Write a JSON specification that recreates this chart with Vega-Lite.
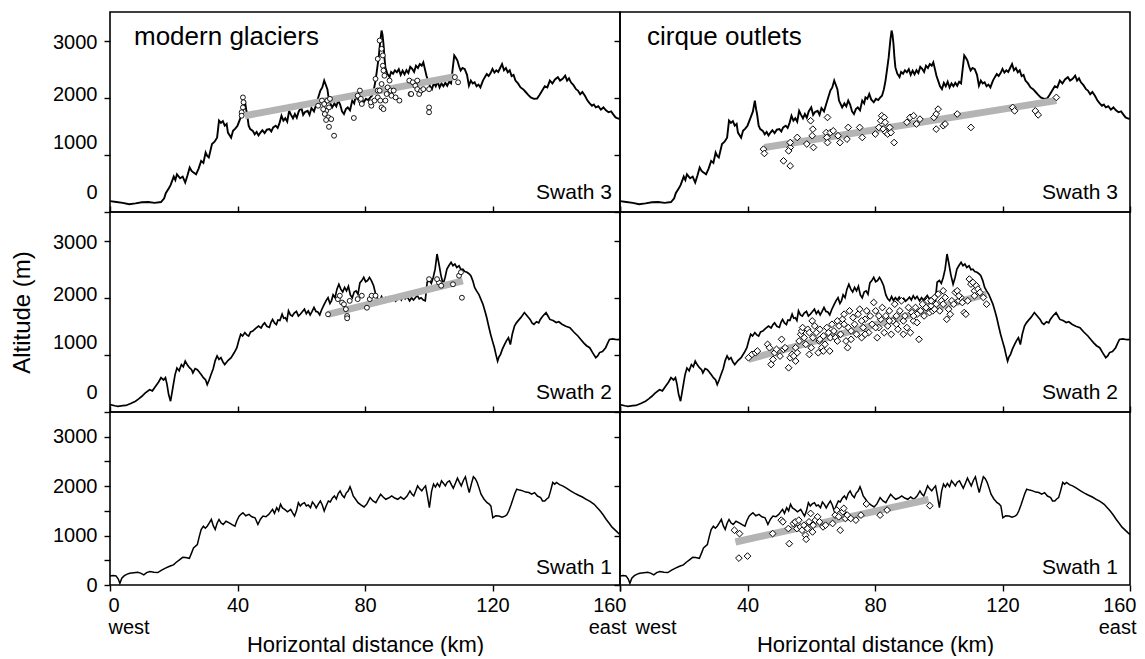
{
  "$schema": "https://vega.github.io/schema/vega-lite/v6.json",
  "background": "white",
  "padding": {"left": 9, "top": 11, "right": 5, "bottom": 0},
  "columns": 2,
  "spacing": 0,
  "bounds": "flush",
  "config": {
    "font": "Liberation Sans",
    "view": {"stroke": "black", "strokeWidth": 1.6},
    "axis": {"grid": false, "domain": false, "tickColor": "black", "tickWidth": 1.4, "tickSize": 6, "labelColor": "black", "labelFontSize": 20, "labelFont": "Liberation Sans", "titleFont": "Liberation Sans", "titleFontSize": 22, "titleFontWeight": "normal", "titleColor": "black", "labelOverlap": false, "labelFlush": false},
    "title": {"font": "Liberation Sans", "fontSize": 26, "fontWeight": "normal", "color": "black"}
  },
  "datasets": {
    "s3": [
      {"km":0,"alt":190},{"km":2,"alt":175},{"km":4,"alt":160},{"km":6,"alt":135},{"km":8,"alt":150},{"km":10,"alt":170},{"km":12,"alt":175},{"km":14,"alt":160},{"km":16,"alt":175},{"km":17,"alt":240},{"km":17.5,"alt":330},{"km":18.5,"alt":420},{"km":19,"alt":470},{"km":20,"alt":620},{"km":20.5,"alt":560},{"km":21,"alt":660},{"km":22,"alt":590},{"km":22.8,"alt":620},{"km":23.6,"alt":515},{"km":24.3,"alt":640},{"km":25,"alt":780},{"km":25.6,"alt":720},{"km":26,"alt":700},{"km":27,"alt":660},{"km":27.8,"alt":760},{"km":28.6,"alt":895},{"km":29.3,"alt":860},{"km":30,"alt":1040},{"km":30.5,"alt":980},{"km":31,"alt":955},{"km":32,"alt":1190},{"km":32.8,"alt":1230},{"km":33.6,"alt":1300},{"km":34.2,"alt":1600},{"km":34.8,"alt":1560},{"km":35.4,"alt":1590},{"km":36,"alt":1510},{"km":36.6,"alt":1540},{"km":37,"alt":1390},{"km":38,"alt":1300},{"km":38.6,"alt":1420},{"km":39.3,"alt":1460},{"km":40,"alt":1510},{"km":41,"alt":1655},{"km":41.7,"alt":1760},{"km":42.3,"alt":1950},{"km":42.7,"alt":1800},{"km":43,"alt":1715},{"km":43.5,"alt":1510},{"km":44,"alt":1450},{"km":44.8,"alt":1420},{"km":45.4,"alt":1360},{"km":46,"alt":1400},{"km":46.6,"alt":1340},{"km":47.2,"alt":1390},{"km":47.8,"alt":1430},{"km":48.5,"alt":1380},{"km":49.2,"alt":1440},{"km":50,"alt":1450},{"km":50.6,"alt":1410},{"km":51.2,"alt":1480},{"km":52,"alt":1510},{"km":52.6,"alt":1470},{"km":53.2,"alt":1560},{"km":53.8,"alt":1685},{"km":54.4,"alt":1600},{"km":55,"alt":1640},{"km":55.6,"alt":1580},{"km":56.2,"alt":1770},{"km":56.8,"alt":1700},{"km":57.4,"alt":1640},{"km":58,"alt":1715},{"km":58.6,"alt":1650},{"km":59.2,"alt":1760},{"km":60,"alt":1830},{"km":60.6,"alt":1700},{"km":61.2,"alt":1750},{"km":62,"alt":1770},{"km":62.6,"alt":1700},{"km":63.2,"alt":1820},{"km":64,"alt":1760},{"km":64.7,"alt":1890},{"km":65.3,"alt":2000},{"km":66,"alt":2125},{"km":66.6,"alt":2180},{"km":67.2,"alt":2300},{"km":67.6,"alt":2240},{"km":68.2,"alt":2150},{"km":68.7,"alt":1950},{"km":69.3,"alt":1880},{"km":69.7,"alt":1830},{"km":70.4,"alt":1900},{"km":71,"alt":1850},{"km":71.6,"alt":1950},{"km":72.2,"alt":1880},{"km":72.8,"alt":1760},{"km":73.4,"alt":1715},{"km":74,"alt":1800},{"km":74.6,"alt":1830},{"km":75.3,"alt":1780},{"km":76,"alt":1950},{"km":76.6,"alt":1900},{"km":77,"alt":2005},{"km":77.6,"alt":1980},{"km":78.2,"alt":2065},{"km":78.8,"alt":1970},{"km":79.6,"alt":1920},{"km":80.3,"alt":1980},{"km":81,"alt":1960},{"km":81.6,"alt":2000},{"km":82.2,"alt":2035},{"km":82.8,"alt":2150},{"km":83.3,"alt":2300},{"km":83.8,"alt":2500},{"km":84.3,"alt":2710},{"km":84.8,"alt":3000},{"km":85.2,"alt":3175},{"km":85.5,"alt":3100},{"km":85.8,"alt":2940},{"km":86.1,"alt":2700},{"km":86.4,"alt":2530},{"km":87,"alt":2420},{"km":87.7,"alt":2360},{"km":88.2,"alt":2450},{"km":88.8,"alt":2420},{"km":89.4,"alt":2480},{"km":90,"alt":2445},{"km":90.6,"alt":2500},{"km":91.2,"alt":2400},{"km":91.8,"alt":2475},{"km":92.4,"alt":2410},{"km":93,"alt":2480},{"km":93.6,"alt":2430},{"km":94.2,"alt":2540},{"km":94.8,"alt":2505},{"km":95.4,"alt":2450},{"km":96,"alt":2560},{"km":96.6,"alt":2520},{"km":97.2,"alt":2590},{"km":97.8,"alt":2560},{"km":98.3,"alt":2620},{"km":98.8,"alt":2500},{"km":99.3,"alt":2380},{"km":99.8,"alt":2300},{"km":100.4,"alt":2200},{"km":101,"alt":2150},{"km":101.6,"alt":2260},{"km":102.2,"alt":2200},{"km":102.8,"alt":2280},{"km":103.4,"alt":2180},{"km":104,"alt":2250},{"km":104.6,"alt":2200},{"km":105.2,"alt":2260},{"km":105.8,"alt":2210},{"km":106.4,"alt":2280},{"km":107,"alt":2250},{"km":107.5,"alt":2500},{"km":108,"alt":2740},{"km":108.5,"alt":2700},{"km":109,"alt":2650},{"km":109.5,"alt":2550},{"km":110,"alt":2475},{"km":110.6,"alt":2520},{"km":111.3,"alt":2500},{"km":112,"alt":2400},{"km":112.6,"alt":2210},{"km":113.2,"alt":2300},{"km":113.8,"alt":2250},{"km":114.4,"alt":2270},{"km":115,"alt":2200},{"km":115.6,"alt":2230},{"km":116.2,"alt":2180},{"km":117,"alt":2300},{"km":117.6,"alt":2360},{"km":118.2,"alt":2415},{"km":118.8,"alt":2380},{"km":119.4,"alt":2430},{"km":120,"alt":2505},{"km":120.6,"alt":2440},{"km":121.2,"alt":2480},{"km":121.8,"alt":2450},{"km":122.4,"alt":2520},{"km":123,"alt":2590},{"km":123.6,"alt":2480},{"km":124.2,"alt":2520},{"km":124.8,"alt":2445},{"km":125.4,"alt":2480},{"km":126,"alt":2380},{"km":126.6,"alt":2400},{"km":127.2,"alt":2300},{"km":128,"alt":2250},{"km":128.8,"alt":2180},{"km":129.6,"alt":2150},{"km":130.4,"alt":2100},{"km":131.2,"alt":2050},{"km":132,"alt":2005},{"km":133,"alt":1980},{"km":134,"alt":1985},{"km":134.8,"alt":2050},{"km":135.6,"alt":2125},{"km":136.4,"alt":2200},{"km":137.2,"alt":2180},{"km":138,"alt":2300},{"km":138.8,"alt":2250},{"km":139.6,"alt":2320},{"km":140.5,"alt":2360},{"km":141.2,"alt":2300},{"km":142,"alt":2330},{"km":142.8,"alt":2385},{"km":143.4,"alt":2300},{"km":144,"alt":2340},{"km":144.6,"alt":2270},{"km":145.4,"alt":2220},{"km":146.2,"alt":2150},{"km":146.8,"alt":2125},{"km":147.5,"alt":2060},{"km":148.2,"alt":2100},{"km":149,"alt":2035},{"km":149.8,"alt":1950},{"km":150.5,"alt":1900},{"km":151.2,"alt":1860},{"km":151.8,"alt":1880},{"km":152.4,"alt":1830},{"km":153.2,"alt":1850},{"km":154,"alt":1790},{"km":154.8,"alt":1830},{"km":155.6,"alt":1780},{"km":156.4,"alt":1745},{"km":157.2,"alt":1760},{"km":158,"alt":1700},{"km":158.6,"alt":1655},{"km":159.3,"alt":1640},{"km":160,"alt":1625}
    ],
    "s2": [
      {"km":0,"alt":130},{"km":1.5,"alt":110},{"km":2.5,"alt":100},{"km":4,"alt":110},{"km":5,"alt":115},{"km":6.5,"alt":150},{"km":8,"alt":190},{"km":9,"alt":230},{"km":10,"alt":275},{"km":11,"alt":330},{"km":12.4,"alt":390},{"km":13.3,"alt":370},{"km":14.3,"alt":450},{"km":15.2,"alt":520},{"km":16,"alt":600},{"km":16.8,"alt":560},{"km":17.4,"alt":600},{"km":17.9,"alt":480},{"km":18.4,"alt":305},{"km":19,"alt":190},{"km":19.7,"alt":420},{"km":20.4,"alt":650},{"km":21,"alt":770},{"km":21.7,"alt":720},{"km":22.4,"alt":830},{"km":23,"alt":790},{"km":23.6,"alt":890},{"km":24.3,"alt":820},{"km":25,"alt":770},{"km":25.6,"alt":740},{"km":26,"alt":685},{"km":26.7,"alt":760},{"km":27.4,"alt":740},{"km":28,"alt":700},{"km":28.6,"alt":655},{"km":29.3,"alt":600},{"km":30,"alt":560},{"km":30.5,"alt":480},{"km":31.1,"alt":560},{"km":31.7,"alt":655},{"km":32.4,"alt":760},{"km":33,"alt":900},{"km":33.6,"alt":980},{"km":34.2,"alt":920},{"km":34.8,"alt":950},{"km":35.4,"alt":880},{"km":36,"alt":830},{"km":37,"alt":900},{"km":38,"alt":950},{"km":39,"alt":1040},{"km":39.8,"alt":1125},{"km":40.4,"alt":1250},{"km":41,"alt":1360},{"km":41.6,"alt":1330},{"km":42.3,"alt":1390},{"km":42.9,"alt":1350},{"km":43.5,"alt":1330},{"km":44.1,"alt":1400},{"km":44.8,"alt":1415},{"km":45.6,"alt":1460},{"km":46.6,"alt":1505},{"km":47.4,"alt":1470},{"km":48,"alt":1530},{"km":48.5,"alt":1560},{"km":49.2,"alt":1500},{"km":50,"alt":1480},{"km":50.5,"alt":1570},{"km":51,"alt":1620},{"km":51.6,"alt":1560},{"km":52.2,"alt":1530},{"km":52.7,"alt":1610},{"km":53.3,"alt":1600},{"km":54,"alt":1710},{"km":54.5,"alt":1640},{"km":55,"alt":1650},{"km":55.5,"alt":1600},{"km":56,"alt":1770},{"km":56.6,"alt":1700},{"km":57.2,"alt":1680},{"km":57.8,"alt":1730},{"km":58.5,"alt":1760},{"km":59.1,"alt":1680},{"km":59.7,"alt":1710},{"km":60.4,"alt":1760},{"km":61,"alt":1800},{"km":61.6,"alt":1720},{"km":62.2,"alt":1770},{"km":62.8,"alt":1700},{"km":63.4,"alt":1760},{"km":64,"alt":1830},{"km":64.6,"alt":1760},{"km":65.2,"alt":1750},{"km":65.8,"alt":1700},{"km":66.4,"alt":1790},{"km":67.2,"alt":1885},{"km":67.8,"alt":1950},{"km":68.4,"alt":2000},{"km":69,"alt":1900},{"km":69.5,"alt":1950},{"km":70,"alt":2050},{"km":70.6,"alt":2000},{"km":71.2,"alt":2150},{"km":71.8,"alt":2235},{"km":72.4,"alt":2150},{"km":73,"alt":2100},{"km":73.6,"alt":2180},{"km":74.2,"alt":2120},{"km":74.8,"alt":2200},{"km":75.4,"alt":2050},{"km":76,"alt":2000},{"km":76.6,"alt":2100},{"km":77.2,"alt":2120},{"km":77.8,"alt":2060},{"km":78.4,"alt":2260},{"km":79,"alt":2300},{"km":79.6,"alt":2355},{"km":80.2,"alt":2280},{"km":80.8,"alt":2300},{"km":81.4,"alt":2355},{"km":82,"alt":2300},{"km":82.7,"alt":2210},{"km":83.4,"alt":2050},{"km":84,"alt":1980},{"km":84.6,"alt":1945},{"km":85.2,"alt":2020},{"km":85.8,"alt":1950},{"km":86.4,"alt":2000},{"km":87,"alt":1960},{"km":87.6,"alt":2010},{"km":88.3,"alt":1945},{"km":89,"alt":1990},{"km":89.6,"alt":1940},{"km":90.2,"alt":1970},{"km":90.8,"alt":2010},{"km":91.4,"alt":1960},{"km":92,"alt":2035},{"km":92.6,"alt":1980},{"km":93.2,"alt":2020},{"km":94,"alt":1945},{"km":94.6,"alt":2000},{"km":95.2,"alt":1960},{"km":95.8,"alt":2000},{"km":96.4,"alt":2040},{"km":97,"alt":1980},{"km":97.6,"alt":2000},{"km":98.3,"alt":1960},{"km":98.9,"alt":1945},{"km":99.5,"alt":2270},{"km":100.2,"alt":2300},{"km":100.8,"alt":2250},{"km":101.4,"alt":2355},{"km":102,"alt":2500},{"km":102.6,"alt":2765},{"km":103.2,"alt":2590},{"km":103.8,"alt":2400},{"km":104.5,"alt":2235},{"km":105.1,"alt":2350},{"km":105.7,"alt":2500},{"km":106.3,"alt":2560},{"km":107,"alt":2620},{"km":107.6,"alt":2560},{"km":108.2,"alt":2590},{"km":108.8,"alt":2530},{"km":109.5,"alt":2560},{"km":110.1,"alt":2490},{"km":110.7,"alt":2500},{"km":111.3,"alt":2460},{"km":112,"alt":2445},{"km":112.6,"alt":2420},{"km":113.2,"alt":2385},{"km":113.8,"alt":2300},{"km":114.4,"alt":2180},{"km":115,"alt":2120},{"km":115.7,"alt":2060},{"km":116.3,"alt":1980},{"km":117,"alt":1885},{"km":117.6,"alt":1770},{"km":118.2,"alt":1650},{"km":118.8,"alt":1500},{"km":119.4,"alt":1360},{"km":120,"alt":1240},{"km":120.6,"alt":1125},{"km":121.1,"alt":1000},{"km":121.6,"alt":890},{"km":122,"alt":960},{"km":122.5,"alt":1005},{"km":123.1,"alt":1100},{"km":123.8,"alt":1185},{"km":124.4,"alt":1250},{"km":125,"alt":1300},{"km":125.6,"alt":1180},{"km":126.2,"alt":1360},{"km":126.9,"alt":1505},{"km":127.5,"alt":1560},{"km":128,"alt":1595},{"km":129,"alt":1660},{"km":130,"alt":1740},{"km":130.9,"alt":1680},{"km":131.8,"alt":1620},{"km":132.4,"alt":1560},{"km":133,"alt":1535},{"km":133.8,"alt":1580},{"km":134.5,"alt":1560},{"km":135,"alt":1620},{"km":135.8,"alt":1680},{"km":136.8,"alt":1740},{"km":137.4,"alt":1680},{"km":138,"alt":1620},{"km":139,"alt":1600},{"km":140,"alt":1565},{"km":140.8,"alt":1580},{"km":141.8,"alt":1535},{"km":143,"alt":1500},{"km":144.3,"alt":1475},{"km":145.5,"alt":1400},{"km":146.8,"alt":1330},{"km":147.7,"alt":1270},{"km":148.6,"alt":1210},{"km":149.5,"alt":1160},{"km":150.5,"alt":1125},{"km":151.4,"alt":1040},{"km":152.4,"alt":950},{"km":153,"alt":980},{"km":153.6,"alt":1040},{"km":154.5,"alt":1060},{"km":155.5,"alt":1125},{"km":156.1,"alt":1200},{"km":156.7,"alt":1270},{"km":157.6,"alt":1280},{"km":158.6,"alt":1270},{"km":159.3,"alt":1265},{"km":160,"alt":1270}
    ],
    "s1": [
      {"km":0,"alt":184},{"km":1,"alt":190},{"km":1.9,"alt":184},{"km":2.6,"alt":120},{"km":3.1,"alt":34},{"km":3.7,"alt":136},{"km":4.5,"alt":190},{"km":5.4,"alt":220},{"km":6.2,"alt":238},{"km":7.5,"alt":250},{"km":8.7,"alt":258},{"km":9.6,"alt":240},{"km":10.6,"alt":204},{"km":11.5,"alt":250},{"km":12.5,"alt":272},{"km":13.8,"alt":260},{"km":15,"alt":252},{"km":16.2,"alt":300},{"km":17.4,"alt":340},{"km":18.7,"alt":380},{"km":19.9,"alt":408},{"km":20.8,"alt":460},{"km":21.8,"alt":510},{"km":22.8,"alt":560},{"km":23.7,"alt":558},{"km":24.9,"alt":540},{"km":25.6,"alt":650},{"km":26.2,"alt":748},{"km":27.4,"alt":816},{"km":28,"alt":980},{"km":28.6,"alt":1122},{"km":29.3,"alt":1190},{"km":29.9,"alt":1150},{"km":30.5,"alt":1190},{"km":31.2,"alt":1260},{"km":31.8,"alt":1326},{"km":32.4,"alt":1200},{"km":33,"alt":1122},{"km":33.6,"alt":1250},{"km":34.2,"alt":1326},{"km":34.8,"alt":1260},{"km":35.5,"alt":1224},{"km":36.4,"alt":1290},{"km":37.4,"alt":1258},{"km":38.3,"alt":1220},{"km":39.2,"alt":1190},{"km":39.8,"alt":1300},{"km":40.5,"alt":1394},{"km":41.1,"alt":1430},{"km":41.7,"alt":1462},{"km":42.6,"alt":1400},{"km":43.6,"alt":1428},{"km":44.5,"alt":1380},{"km":45.5,"alt":1360},{"km":46.4,"alt":1224},{"km":47.2,"alt":1330},{"km":48,"alt":1394},{"km":48.9,"alt":1380},{"km":49.8,"alt":1428},{"km":50.4,"alt":1480},{"km":51,"alt":1530},{"km":51.6,"alt":1450},{"km":52.3,"alt":1564},{"km":52.9,"alt":1500},{"km":53.5,"alt":1632},{"km":54.1,"alt":1560},{"km":54.8,"alt":1530},{"km":55.7,"alt":1480},{"km":56.7,"alt":1530},{"km":57.3,"alt":1460},{"km":57.9,"alt":1394},{"km":58.5,"alt":1500},{"km":59.1,"alt":1666},{"km":59.7,"alt":1600},{"km":60.3,"alt":1640},{"km":61,"alt":1666},{"km":61.6,"alt":1600},{"km":62.2,"alt":1620},{"km":62.9,"alt":1564},{"km":63.5,"alt":1680},{"km":64.1,"alt":1632},{"km":64.7,"alt":1560},{"km":65.4,"alt":1640},{"km":66,"alt":1700},{"km":66.6,"alt":1620},{"km":67.2,"alt":1496},{"km":67.8,"alt":1600},{"km":68.5,"alt":1700},{"km":69.1,"alt":1680},{"km":69.8,"alt":1760},{"km":70.4,"alt":1802},{"km":71,"alt":1740},{"km":71.6,"alt":1850},{"km":72.2,"alt":1904},{"km":72.8,"alt":1820},{"km":73.5,"alt":1768},{"km":74.1,"alt":1860},{"km":74.7,"alt":1900},{"km":75.3,"alt":1986},{"km":75.8,"alt":1900},{"km":76.3,"alt":1802},{"km":77,"alt":1740},{"km":77.8,"alt":1666},{"km":78.7,"alt":1620},{"km":79.7,"alt":1578},{"km":80.6,"alt":1640},{"km":81.6,"alt":1768},{"km":82.5,"alt":1700},{"km":83.4,"alt":1666},{"km":84.2,"alt":1760},{"km":84.9,"alt":1836},{"km":85.7,"alt":1780},{"km":86.5,"alt":1734},{"km":87.4,"alt":1760},{"km":88.4,"alt":1802},{"km":89.3,"alt":1760},{"km":90.3,"alt":1734},{"km":91.2,"alt":1780},{"km":92.2,"alt":1734},{"km":93.2,"alt":1800},{"km":94.1,"alt":1904},{"km":94.7,"alt":1840},{"km":95.3,"alt":1802},{"km":95.9,"alt":1900},{"km":96.5,"alt":2006},{"km":97.1,"alt":1950},{"km":97.8,"alt":1904},{"km":98.4,"alt":1960},{"km":99,"alt":2006},{"km":99.6,"alt":1800},{"km":100.2,"alt":1564},{"km":100.9,"alt":1900},{"km":101.5,"alt":2040},{"km":102.1,"alt":1980},{"km":102.7,"alt":2054},{"km":103.4,"alt":1990},{"km":104,"alt":2108},{"km":104.6,"alt":2060},{"km":105.2,"alt":2006},{"km":105.8,"alt":2080},{"km":106.5,"alt":2108},{"km":107.1,"alt":2030},{"km":107.7,"alt":1958},{"km":108.3,"alt":2050},{"km":109,"alt":2162},{"km":109.6,"alt":2080},{"km":110.2,"alt":2006},{"km":110.9,"alt":2120},{"km":111.5,"alt":2190},{"km":112.1,"alt":2020},{"km":112.7,"alt":1870},{"km":113.4,"alt":2050},{"km":114,"alt":2190},{"km":114.6,"alt":2150},{"km":115.2,"alt":2074},{"km":115.8,"alt":1960},{"km":116.4,"alt":1836},{"km":117.3,"alt":1740},{"km":118.3,"alt":1666},{"km":118.9,"alt":1640},{"km":119.5,"alt":1598},{"km":120.1,"alt":1360},{"km":121,"alt":1400},{"km":122,"alt":1394},{"km":123,"alt":1370},{"km":123.9,"alt":1394},{"km":124.5,"alt":1420},{"km":125.1,"alt":1496},{"km":125.8,"alt":1620},{"km":126.4,"alt":1734},{"km":127,"alt":1850},{"km":127.6,"alt":1938},{"km":128.5,"alt":1920},{"km":129.5,"alt":1904},{"km":130.4,"alt":1880},{"km":131.4,"alt":1870},{"km":132.3,"alt":1840},{"km":133.2,"alt":1870},{"km":134.1,"alt":1800},{"km":135.1,"alt":1768},{"km":135.7,"alt":1700},{"km":136.4,"alt":1700},{"km":137,"alt":1740},{"km":137.6,"alt":1768},{"km":138.2,"alt":1900},{"km":138.9,"alt":2074},{"km":139.5,"alt":2040},{"km":140.1,"alt":2074},{"km":141,"alt":2030},{"km":142,"alt":2006},{"km":143.2,"alt":1960},{"km":144.5,"alt":1904},{"km":145.7,"alt":1860},{"km":147,"alt":1816},{"km":148.2,"alt":1780},{"km":149.4,"alt":1734},{"km":150.6,"alt":1690},{"km":151.9,"alt":1632},{"km":152.8,"alt":1570},{"km":153.8,"alt":1496},{"km":154.7,"alt":1420},{"km":155.7,"alt":1326},{"km":156.6,"alt":1250},{"km":157.5,"alt":1170},{"km":158.5,"alt":1110},{"km":159.4,"alt":1054},{"km":160,"alt":1020}
    ],
    "t3L": [{"km":42.3,"alt":1685},{"km":108.2,"alt":2370}],
    "t3R": [{"km":45.3,"alt":1130},{"km":136.9,"alt":1950}],
    "t2L": [{"km":68.4,"alt":1710},{"km":110.7,"alt":2295}],
    "t2R": [{"km":40.3,"alt":920},{"km":115,"alt":2063}],
    "t1R": [{"km":36.2,"alt":870},{"km":96.8,"alt":1730}],
    "p3L": [
      {"km":41.7,"alt":2005},{"km":41.9,"alt":1920},{"km":41.7,"alt":1830},{"km":41.3,"alt":1745},{"km":41.3,"alt":1685},{"km":65.3,"alt":1860},{"km":66.5,"alt":1950},{"km":67.2,"alt":1890},{"km":68.2,"alt":1950},{"km":68.7,"alt":1830},{"km":67.8,"alt":1770},{"km":67.4,"alt":1715},{"km":68.5,"alt":1655},{"km":67.8,"alt":1610},{"km":69.4,"alt":1625},{"km":68.7,"alt":1490},{"km":70.3,"alt":1335},{"km":66.9,"alt":1800},{"km":69.0,"alt":1980},{"km":76.5,"alt":1645},{"km":77.7,"alt":2035},{"km":78.4,"alt":2125},{"km":78.6,"alt":1950},{"km":79.0,"alt":1890},{"km":78.7,"alt":1980},{"km":82.0,"alt":1860},{"km":81.8,"alt":1920},{"km":83.0,"alt":1950},{"km":84.0,"alt":2005},{"km":84.0,"alt":2125},{"km":83.3,"alt":2330},{"km":84.0,"alt":2680},{"km":84.6,"alt":3000},{"km":85.2,"alt":2855},{"km":85.6,"alt":2740},{"km":85.6,"alt":2560},{"km":85.8,"alt":2475},{"km":86.1,"alt":2385},{"km":85.2,"alt":2240},{"km":84.6,"alt":2125},{"km":84.8,"alt":1950},{"km":85.2,"alt":1830},{"km":85.8,"alt":1800},{"km":86.4,"alt":1950},{"km":86.8,"alt":2065},{"km":87.1,"alt":2180},{"km":87.7,"alt":2300},{"km":88.0,"alt":2125},{"km":88.3,"alt":2035},{"km":89.0,"alt":2125},{"km":89.6,"alt":2005},{"km":90.8,"alt":1950},{"km":94.3,"alt":2065},{"km":93.9,"alt":2300},{"km":95.0,"alt":2270},{"km":95.8,"alt":2210},{"km":96.4,"alt":2150},{"km":97.0,"alt":2065},{"km":97.6,"alt":2125},{"km":98.3,"alt":2150},{"km":96.4,"alt":2300},{"km":100.1,"alt":1830},{"km":100.1,"alt":1745},{"km":100.1,"alt":2150},{"km":108.2,"alt":2360},{"km":109.2,"alt":2270},{"km":94.5,"alt":2065}
    ],
    "p3R": [
      {"km":45,"alt":1100},{"km":45.3,"alt":1025},{"km":51.3,"alt":895},{"km":53.4,"alt":807},{"km":53.4,"alt":1130},{"km":53.4,"alt":1215},{"km":52.9,"alt":1070},{"km":55.6,"alt":1305},{"km":58.6,"alt":1190},{"km":59.8,"alt":1597},{"km":60.5,"alt":1450},{"km":60.3,"alt":1335},{"km":60.7,"alt":1130},{"km":64.7,"alt":1390},{"km":64.9,"alt":1305},{"km":65.1,"alt":1215},{"km":65.1,"alt":1655},{"km":66,"alt":1390},{"km":66.9,"alt":1420},{"km":68.4,"alt":1335},{"km":69,"alt":1215},{"km":71.2,"alt":1275},{"km":71.6,"alt":1480},{"km":75.2,"alt":1480},{"km":76,"alt":1305},{"km":80.1,"alt":1365},{"km":81.2,"alt":1480},{"km":82.1,"alt":1685},{"km":81.8,"alt":1597},{"km":82.9,"alt":1655},{"km":83.2,"alt":1570},{"km":82.6,"alt":1450},{"km":83.4,"alt":1390},{"km":84,"alt":1365},{"km":85,"alt":1390},{"km":86,"alt":1215},{"km":84.6,"alt":1480},{"km":90,"alt":1570},{"km":91,"alt":1655},{"km":92.1,"alt":1685},{"km":93,"alt":1540},{"km":94.1,"alt":1625},{"km":98.5,"alt":1655},{"km":99.2,"alt":1715},{"km":99.8,"alt":1800},{"km":99.2,"alt":1450},{"km":101.4,"alt":1510},{"km":102,"alt":1540},{"km":105.8,"alt":1715},{"km":110.1,"alt":1480},{"km":123.2,"alt":1830},{"km":123.8,"alt":1770},{"km":130.3,"alt":1770},{"km":131.2,"alt":1700},{"km":136.9,"alt":2005}
    ],
    "p2L": [
      {"km":68.4,"alt":1710},{"km":71.5,"alt":1975},{"km":72.1,"alt":2035},{"km":72.8,"alt":1915},{"km":73.4,"alt":1885},{"km":74,"alt":1800},{"km":74.4,"alt":1680},{"km":74.4,"alt":1640},{"km":75.2,"alt":1945},{"km":77.7,"alt":1975},{"km":79,"alt":2035},{"km":80.6,"alt":1825},{"km":81.5,"alt":1975},{"km":82.1,"alt":2035},{"km":83.3,"alt":2035},{"km":100.1,"alt":2325},{"km":103.2,"alt":2265},{"km":103.9,"alt":2210},{"km":107.6,"alt":2235},{"km":109.5,"alt":2385},{"km":110.4,"alt":2000},{"km":110.1,"alt":2445},{"km":102.6,"alt":2325}
    ],
    "p2R": [
      {"km":40.3,"alt":949},{"km":41.4,"alt":1008},{"km":42.5,"alt":1037},{"km":43.1,"alt":1067},{"km":46.3,"alt":1184},{"km":46.9,"alt":1125},{"km":47.4,"alt":832},{"km":48.0,"alt":920},{"km":48.5,"alt":1037},{"km":49.1,"alt":1096},{"km":50.2,"alt":979},{"km":50.7,"alt":1272},{"km":51.3,"alt":1096},{"km":51.8,"alt":1125},{"km":52.9,"alt":774},{"km":53.4,"alt":949},{"km":54.0,"alt":1008},{"km":54.5,"alt":979},{"km":55.1,"alt":1125},{"km":55.6,"alt":1037},{"km":56.2,"alt":1242},{"km":56.7,"alt":1360},{"km":57.0,"alt":1418},{"km":57.3,"alt":1477},{"km":57.8,"alt":1301},{"km":58.3,"alt":1184},{"km":58.9,"alt":1447},{"km":59.4,"alt":1389},{"km":60.0,"alt":1125},{"km":60.3,"alt":1594},{"km":60.5,"alt":1301},{"km":61.1,"alt":1506},{"km":61.6,"alt":1389},{"km":62.2,"alt":1037},{"km":62.5,"alt":1242},{"km":62.7,"alt":1447},{"km":63.3,"alt":1125},{"km":63.8,"alt":1330},{"km":64.3,"alt":1184},{"km":64.9,"alt":1477},{"km":65.4,"alt":1389},{"km":65.8,"alt":1067},{"km":66.0,"alt":1301},{"km":66.5,"alt":1535},{"km":67.1,"alt":1418},{"km":67.6,"alt":1301},{"km":68.2,"alt":1594},{"km":68.7,"alt":1506},{"km":69.2,"alt":1360},{"km":69.8,"alt":1623},{"km":70.3,"alt":1711},{"km":70.9,"alt":1242},{"km":71.4,"alt":1125},{"km":71.6,"alt":1477},{"km":72.0,"alt":1770},{"km":72.5,"alt":1418},{"km":73.1,"alt":1653},{"km":73.6,"alt":1535},{"km":74.2,"alt":1360},{"km":74.7,"alt":1711},{"km":75.2,"alt":1799},{"km":75.8,"alt":1301},{"km":76.3,"alt":1477},{"km":76.9,"alt":1623},{"km":77.4,"alt":1770},{"km":78.0,"alt":1389},{"km":78.5,"alt":1682},{"km":79.1,"alt":1535},{"km":79.6,"alt":1916},{"km":80.2,"alt":1770},{"km":80.7,"alt":1301},{"km":81.2,"alt":1477},{"km":81.8,"alt":1623},{"km":82.3,"alt":1828},{"km":82.9,"alt":1389},{"km":83.4,"alt":1682},{"km":84.0,"alt":1506},{"km":84.5,"alt":1770},{"km":85.1,"alt":1360},{"km":85.6,"alt":1594},{"km":86.2,"alt":1887},{"km":86.7,"alt":1682},{"km":87.2,"alt":1447},{"km":87.8,"alt":1770},{"km":88.3,"alt":1946},{"km":88.9,"alt":1594},{"km":89.4,"alt":1682},{"km":90.0,"alt":1477},{"km":90.5,"alt":1828},{"km":91.1,"alt":1389},{"km":91.6,"alt":1740},{"km":92.1,"alt":1594},{"km":92.7,"alt":1828},{"km":93.2,"alt":1711},{"km":93.8,"alt":1272},{"km":94.3,"alt":1770},{"km":94.9,"alt":1887},{"km":95.4,"alt":1682},{"km":96.0,"alt":1828},{"km":96.5,"alt":1946},{"km":97.1,"alt":1740},{"km":97.6,"alt":1858},{"km":98.1,"alt":1770},{"km":98.7,"alt":2004},{"km":99.2,"alt":1887},{"km":99.8,"alt":2063},{"km":100.3,"alt":1770},{"km":100.9,"alt":1946},{"km":101.4,"alt":2121},{"km":102.0,"alt":2004},{"km":102.5,"alt":1623},{"km":103.1,"alt":1799},{"km":103.6,"alt":1711},{"km":104.1,"alt":1946},{"km":104.7,"alt":1887},{"km":105.2,"alt":2092},{"km":105.8,"alt":2121},{"km":106.3,"alt":1946},{"km":106.9,"alt":2004},{"km":107.4,"alt":1916},{"km":108.0,"alt":1740},{"km":108.5,"alt":1711},{"km":109.1,"alt":1946},{"km":109.6,"alt":2326},{"km":110.1,"alt":2239},{"km":110.7,"alt":2268},{"km":111.2,"alt":2121},{"km":111.8,"alt":2209},{"km":112.3,"alt":2151},{"km":112.9,"alt":2092},{"km":114.0,"alt":2004},{"km":115.0,"alt":1887},{"km":111.2,"alt":2033},{"km":106.3,"alt":2033},{"km":101.4,"alt":1887},{"km":98.7,"alt":1799},{"km":93.2,"alt":1565},{"km":88.9,"alt":1360},{"km":84.5,"alt":1594},{"km":80.2,"alt":1477},{"km":76.9,"alt":1360},{"km":72.5,"alt":1272},{"km":68.2,"alt":1242},{"km":63.8,"alt":1067},{"km":59.4,"alt":1008},{"km":55.1,"alt":891},{"km":62.7,"alt":1272},{"km":70.3,"alt":1535},{"km":75.8,"alt":1594},{"km":81.2,"alt":1682},{"km":86.7,"alt":1535},{"km":92.1,"alt":1682},{"km":97.6,"alt":1946}
    ],
    "p1R": [
      {"km":35.9,"alt":1108},{"km":37.5,"alt":1040},{"km":37.3,"alt":544},{"km":40,"alt":585},{"km":47.9,"alt":1040},{"km":50.6,"alt":1312},{"km":51.1,"alt":1278},{"km":52.8,"alt":1142},{"km":53.1,"alt":836},{"km":54.4,"alt":1244},{"km":55,"alt":1278},{"km":55.5,"alt":1142},{"km":56.1,"alt":1312},{"km":56.6,"alt":1176},{"km":57.1,"alt":1108},{"km":57.7,"alt":1210},{"km":58.2,"alt":1006},{"km":58.4,"alt":925},{"km":58.8,"alt":1142},{"km":59.3,"alt":1278},{"km":59.8,"alt":1448},{"km":60.4,"alt":1074},{"km":60.6,"alt":1210},{"km":61.3,"alt":1312},{"km":62,"alt":1380},{"km":62.6,"alt":1278},{"km":63.7,"alt":1176},{"km":64.5,"alt":1210},{"km":66.7,"alt":1244},{"km":67.5,"alt":1414},{"km":68,"alt":1516},{"km":68.6,"alt":1380},{"km":69.1,"alt":1108},{"km":69.9,"alt":1482},{"km":70.2,"alt":1550},{"km":70.7,"alt":1346},{"km":71.3,"alt":1414},{"km":72.4,"alt":1346},{"km":74,"alt":1312},{"km":75.6,"alt":1414},{"km":77.3,"alt":1639},{"km":81.6,"alt":1414},{"km":83.8,"alt":1516},{"km":97.2,"alt":1605}
    ]
  },
  "concat": [
    {
      "width": 510, "height": 200,
      "title": {"text": "modern glaciers", "anchor": "start", "frame": "group", "offset": -38, "dx": 24},
      "layer": [
        {"data": {"name": "s3"}, "mark": {"type": "line", "color": "black", "strokeWidth": 1.9},
         "encoding": {
           "x": {"field": "km", "type": "quantitative", "scale": {"domain": [0, 160], "nice": false, "zero": false}, "axis": {"title": null, "values": [0, 40, 80, 120, 160], "labels": false, "tickSize": -6}},
           "y": {"field": "alt", "type": "quantitative", "scale": {"domain": [0, 3500], "nice": false}, "axis": {"title": null, "values": [0, 500, 1000, 1500, 2000, 2500, 3000], "format": "d", "labelExpr": "datum.value % 1000 == 0 ? datum.label : ''", "labelPadding": 7, "labelOffset": {"condition": [{"test": "datum.value == 0", "value": -20}, {"test": "datum.value == 1000", "value": -12}, {"test": "datum.value == 2000", "value": -3}], "value": 2}}}
         }},
        {"data": {"name": "t3L"}, "mark": {"type": "line", "color": "#b4b4b4", "strokeWidth": 7, "strokeCap": "butt"},
         "encoding": {"x": {"field": "km", "type": "quantitative"}, "y": {"field": "alt", "type": "quantitative"}}},
        {"data": {"name": "p3L"}, "mark": {"type": "point", "shape": "circle", "filled": true, "fill": "white", "stroke": "black", "strokeWidth": 0.9, "size": 24, "opacity": 1},
         "encoding": {"x": {"field": "km", "type": "quantitative"}, "y": {"field": "alt", "type": "quantitative"}}},
        {"data": {"values": [{"label": "Swath 3"}]}, "mark": {"type": "text", "align": "right", "baseline": "alphabetic", "dx": -8, "dy": -13, "fontSize": 21, "color": "black"},
         "encoding": {"text": {"field": "label"}, "x": {"value": "width"}, "y": {"value": "height"}}}
      ]
    },
    {
      "width": 510, "height": 200,
      "title": {"text": "cirque outlets", "anchor": "start", "frame": "group", "offset": -38, "dx": 27},
      "layer": [
        {"data": {"name": "s3"}, "mark": {"type": "line", "color": "black", "strokeWidth": 1.9},
         "encoding": {
           "x": {"field": "km", "type": "quantitative", "scale": {"domain": [0, 160], "nice": false, "zero": false}, "axis": {"title": null, "values": [0, 40, 80, 120, 160], "labels": false, "tickSize": -6}},
           "y": {"field": "alt", "type": "quantitative", "scale": {"domain": [0, 3500], "nice": false}, "axis": {"title": null, "values": [0, 500, 1000, 1500, 2000, 2500, 3000], "labels": false}}
         }},
        {"data": {"name": "t3R"}, "mark": {"type": "line", "color": "#b4b4b4", "strokeWidth": 7, "strokeCap": "butt"},
         "encoding": {"x": {"field": "km", "type": "quantitative"}, "y": {"field": "alt", "type": "quantitative"}}},
        {"data": {"name": "p3R"}, "mark": {"type": "point", "shape": "diamond", "filled": true, "fill": "white", "stroke": "black", "strokeWidth": 1, "size": 45, "opacity": 1},
         "encoding": {"x": {"field": "km", "type": "quantitative"}, "y": {"field": "alt", "type": "quantitative"}}},
        {"data": {"values": [{"label": "Swath 3"}]}, "mark": {"type": "text", "align": "right", "baseline": "alphabetic", "dx": -12, "dy": -13, "fontSize": 21, "color": "black"},
         "encoding": {"text": {"field": "label"}, "x": {"value": "width"}, "y": {"value": "height"}}}
      ]
    },
    {
      "width": 510, "height": 200,
      "layer": [
        {"data": {"name": "s2"}, "mark": {"type": "line", "color": "black", "strokeWidth": 1.7},
         "encoding": {
           "x": {"field": "km", "type": "quantitative", "scale": {"domain": [0, 160], "nice": false, "zero": false}, "axis": {"title": null, "values": [0, 40, 80, 120, 160], "labels": false, "tickSize": -6}},
           "y": {"field": "alt", "type": "quantitative", "scale": {"domain": [0, 3500], "nice": false}, "axis": {"title": "Altitude (m)", "values": [0, 500, 1000, 1500, 2000, 2500, 3000], "format": "d", "labelExpr": "datum.value % 1000 == 0 ? datum.label : ''", "labelPadding": 7, "titlePadding": 18, "titleFontSize": 24, "labelOffset": {"condition": [{"test": "datum.value == 0", "value": -20}, {"test": "datum.value == 1000", "value": -12}, {"test": "datum.value == 2000", "value": -3}], "value": 2}}}
         }},
        {"data": {"name": "t2L"}, "mark": {"type": "line", "color": "#b4b4b4", "strokeWidth": 7, "strokeCap": "butt"},
         "encoding": {"x": {"field": "km", "type": "quantitative"}, "y": {"field": "alt", "type": "quantitative"}}},
        {"data": {"name": "p2L"}, "mark": {"type": "point", "shape": "circle", "filled": true, "fill": "white", "stroke": "black", "strokeWidth": 0.9, "size": 24, "opacity": 1},
         "encoding": {"x": {"field": "km", "type": "quantitative"}, "y": {"field": "alt", "type": "quantitative"}}},
        {"data": {"values": [{"label": "Swath 2"}]}, "mark": {"type": "text", "align": "right", "baseline": "alphabetic", "dx": -8, "dy": -13, "fontSize": 21, "color": "black"},
         "encoding": {"text": {"field": "label"}, "x": {"value": "width"}, "y": {"value": "height"}}}
      ]
    },
    {
      "width": 510, "height": 200,
      "layer": [
        {"data": {"name": "s2"}, "mark": {"type": "line", "color": "black", "strokeWidth": 1.7},
         "encoding": {
           "x": {"field": "km", "type": "quantitative", "scale": {"domain": [0, 160], "nice": false, "zero": false}, "axis": {"title": null, "values": [0, 40, 80, 120, 160], "labels": false, "tickSize": -6}},
           "y": {"field": "alt", "type": "quantitative", "scale": {"domain": [0, 3500], "nice": false}, "axis": {"title": null, "values": [0, 500, 1000, 1500, 2000, 2500, 3000], "labels": false}}
         }},
        {"data": {"name": "t2R"}, "mark": {"type": "line", "color": "#b4b4b4", "strokeWidth": 7, "strokeCap": "butt"},
         "encoding": {"x": {"field": "km", "type": "quantitative"}, "y": {"field": "alt", "type": "quantitative"}}},
        {"data": {"name": "p2R"}, "mark": {"type": "point", "shape": "diamond", "filled": true, "fill": "white", "stroke": "black", "strokeWidth": 1, "size": 45, "opacity": 1},
         "encoding": {"x": {"field": "km", "type": "quantitative"}, "y": {"field": "alt", "type": "quantitative"}}},
        {"data": {"values": [{"label": "Swath 2"}]}, "mark": {"type": "text", "align": "right", "baseline": "alphabetic", "dx": -12, "dy": -13, "fontSize": 21, "color": "black"},
         "encoding": {"text": {"field": "label"}, "x": {"value": "width"}, "y": {"value": "height"}}}
      ]
    },
    {
      "width": 510, "height": 173,
      "layer": [
        {"data": {"name": "s1"}, "mark": {"type": "line", "color": "black", "strokeWidth": 1.5},
         "encoding": {
           "x": {"field": "km", "type": "quantitative", "scale": {"domain": [0, 160], "nice": false, "zero": false}, "axis": {"title": "Horizontal distance (km)", "values": [0, 40, 80, 120, 160], "labelExpr": "datum.value == 0 ? ['0', 'west'] : datum.value == 160 ? ['160', 'east'] : datum.label", "labelAlign": {"condition": [{"test": "datum.value == 0", "value": "left"}, {"test": "datum.value == 160", "value": "right"}], "value": "center"}, "labelOffset": {"condition": [{"test": "datum.value == 0", "value": -2}, {"test": "datum.value == 160", "value": 6}], "value": 0}, "labelPadding": 4, "labelLineHeight": 22, "titlePadding": -3}},
           "y": {"field": "alt", "type": "quantitative", "scale": {"domain": [0, 3500], "nice": false}, "axis": {"title": null, "values": [0, 500, 1000, 1500, 2000, 2500, 3000], "format": "d", "labelExpr": "datum.value % 1000 == 0 ? datum.label : ''", "labelPadding": 7}}
         }},
        {"data": {"values": [{"label": "Swath 1"}]}, "mark": {"type": "text", "align": "right", "baseline": "alphabetic", "dx": -8, "dy": -11, "fontSize": 21, "color": "black"},
         "encoding": {"text": {"field": "label"}, "x": {"value": "width"}, "y": {"value": "height"}}}
      ]
    },
    {
      "width": 510, "height": 173,
      "layer": [
        {"data": {"name": "s1"}, "mark": {"type": "line", "color": "black", "strokeWidth": 1.5},
         "encoding": {
           "x": {"field": "km", "type": "quantitative", "scale": {"domain": [0, 160], "nice": false, "zero": false}, "axis": {"title": "Horizontal distance (km)", "values": [0, 40, 80, 120, 160], "labelExpr": "datum.value == 0 ? ['', 'west'] : datum.value == 160 ? ['160', 'east'] : datum.label", "labelAlign": {"condition": [{"test": "datum.value == 0", "value": "left"}, {"test": "datum.value == 160", "value": "right"}], "value": "center"}, "labelOffset": {"condition": [{"test": "datum.value == 0", "value": 15}, {"test": "datum.value == 160", "value": 6}], "value": 0}, "labelPadding": 4, "labelLineHeight": 22, "titlePadding": -3}},
           "y": {"field": "alt", "type": "quantitative", "scale": {"domain": [0, 3500], "nice": false}, "axis": {"title": null, "values": [0, 500, 1000, 1500, 2000, 2500, 3000], "labels": false}}
         }},
        {"data": {"name": "t1R"}, "mark": {"type": "line", "color": "#b4b4b4", "strokeWidth": 7, "strokeCap": "butt"},
         "encoding": {"x": {"field": "km", "type": "quantitative"}, "y": {"field": "alt", "type": "quantitative"}}},
        {"data": {"name": "p1R"}, "mark": {"type": "point", "shape": "diamond", "filled": true, "fill": "white", "stroke": "black", "strokeWidth": 1, "size": 45, "opacity": 1},
         "encoding": {"x": {"field": "km", "type": "quantitative"}, "y": {"field": "alt", "type": "quantitative"}}},
        {"data": {"values": [{"label": "Swath 1"}]}, "mark": {"type": "text", "align": "right", "baseline": "alphabetic", "dx": -12, "dy": -11, "fontSize": 21, "color": "black"},
         "encoding": {"text": {"field": "label"}, "x": {"value": "width"}, "y": {"value": "height"}}}
      ]
    }
  ]
}
